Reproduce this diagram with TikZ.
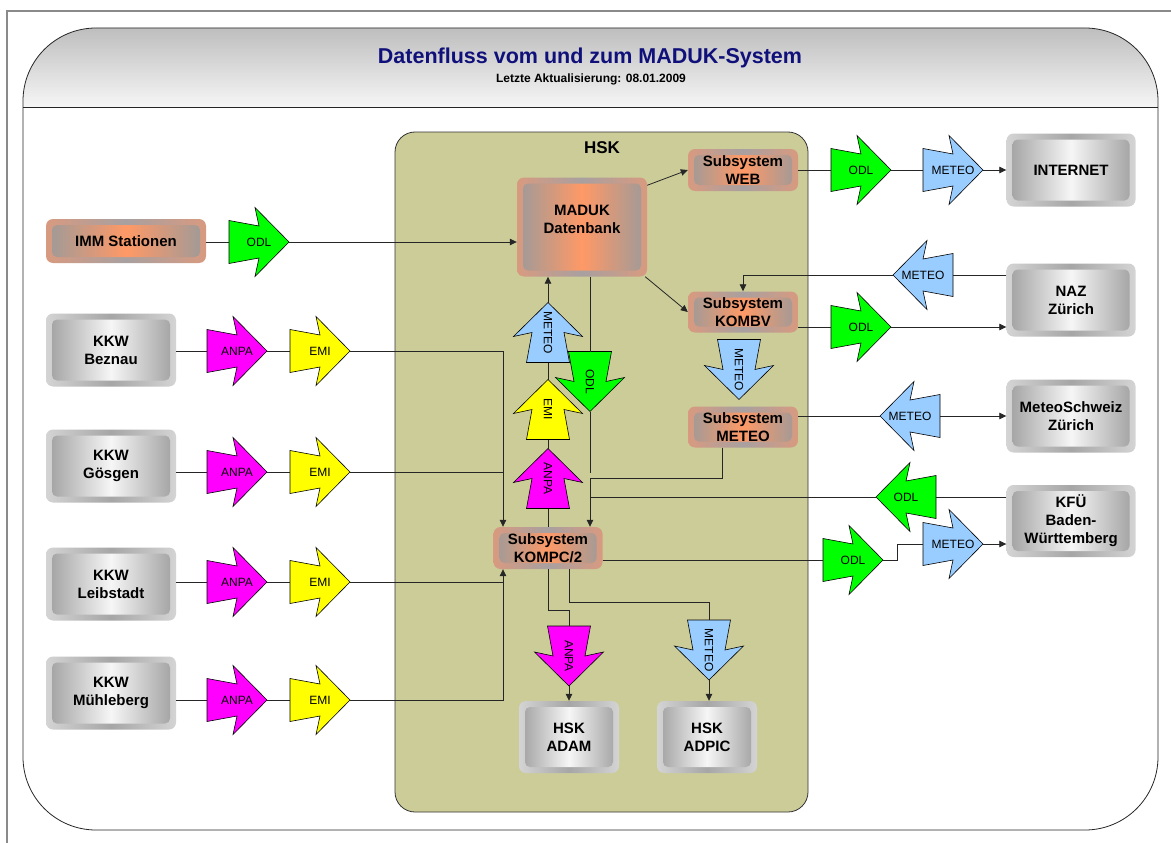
\documentclass[tikz,border=0pt]{standalone}
\usepackage{fontspec}
\setmainfont{Liberation Sans}
\usetikzlibrary{calc,arrows.meta}
\definecolor{odlc}{HTML}{00FF00}
\definecolor{meteoc}{HTML}{99CCFF}
\definecolor{anpac}{HTML}{FF00FF}
\definecolor{emic}{HTML}{FFFF00}
\definecolor{hskc}{HTML}{CCCC99}
\definecolor{titlec}{HTML}{10107A}
\definecolor{orC}{HTML}{FF9966}
\definecolor{orG}{HTML}{9C9A9A}
\definecolor{orRimE}{HTML}{D89A80}
\definecolor{orRimM}{HTML}{A8A0A0}
\definecolor{grIn}{HTML}{9E9E9E}
\definecolor{grMid}{HTML}{F6F6F6}
\definecolor{grRimE}{HTML}{D4D4D4}
\definecolor{grRimM}{HTML}{A6A6A6}
\definecolor{hdrTop}{HTML}{BEBEBE}
\definecolor{hdrBot}{HTML}{F6F6F6}
\definecolor{framec}{HTML}{8A8A8A}
\newcommand\nodefont{\fontsize{15}{18}\selectfont\bfseries}
\newcommand\arrfont{\fontsize{12}{14}\selectfont}
\tikzset{
  x=1pt, y=-1pt,
  conn/.style={line width=0.8pt, draw=black!85},
  tri/.style={-{Triangle[length=7pt,width=6.5pt]}},
  graybox/.style={rounded corners=7pt, inner sep=0pt, align=center, font=\nodefont,
    left color=grRimE, right color=grRimE, middle color=grRimM,
    path picture={\shade[rounded corners=5pt, left color=grIn, right color=grIn, middle color=grMid]
      ($(path picture bounding box.south west)+(6pt,6pt)$) rectangle ($(path picture bounding box.north east)+(-6pt,-6pt)$);}},
  orangebox/.style={rounded corners=7pt, inner sep=0pt, align=center, font=\nodefont,
    left color=orRimE, right color=orRimE, middle color=orRimM,
    path picture={\shade[rounded corners=5pt, left color=orG, right color=orG, middle color=orC]
      ($(path picture bounding box.south west)+(6pt,6pt)$) rectangle ($(path picture bounding box.north east)+(-6pt,-6pt)$);}},
  arrowlabel/.style={inner sep=0pt, font=\arrfont},
  pics/fatarrow/.style n args={3}{code={
    \draw[line width=0.6pt, draw=black, fill=#1]
      (-30,21.5) -- (0,16) -- (-4,34.5) -- (30,0) -- (-4,-34.5) -- (0,-16) -- (-30,-21.5) -- cycle;
    \coordinate (-tip) at (30,0);
    \coordinate (-tail) at (-30,0);
    \node[arrowlabel, rotate=#3] (-c) at (0,0) {#2};
  }}
}
\begin{document}
\begin{tikzpicture}
\useasboundingbox (0,0) rectangle (1171,843);
\fill[white] (0,0) rectangle (1171,843);
% page frame
\draw[framec, line width=1.4pt] (7,843) -- (7,11) -- (1171,11);
% main panel with header
\begin{scope}
  \clip[rounded corners=73pt] (23,28) rectangle (1158,830);
  \shade[top color=hdrTop, bottom color=hdrBot] (23,28) rectangle (1158,107);
\end{scope}
\draw[line width=0.8pt, black!85, rounded corners=73pt] (23,28) rectangle (1158,830);
\draw[line width=0.8pt, black!85] (23,107) -- (1158,107);
\node[font=\fontsize{21.5}{24}\selectfont\bfseries, text=titlec] (title) at (590,58) {Datenfluss vom und zum MADUK-System};
\node[font=\fontsize{12}{14}\selectfont\bfseries] (subtitle) at (591,79) {Letzte Aktualisierung: 08.01.2009};
% HSK panel
\draw[line width=0.8pt, draw=black!80, fill=hskc, rounded corners=20pt] (395,132) rectangle (808,812);
\node[font=\fontsize{17}{20}\selectfont\bfseries] (hsk) at (602,148) {HSK};
% left nodes
\node[orangebox, minimum width=160pt, minimum height=44pt] (imm) at (126,241) {IMM Stationen};
\node[graybox, minimum width=130pt, minimum height=73pt] (bez) at (111,350) {KKW\\Beznau};
\node[graybox, minimum width=130pt, minimum height=73pt] (goe) at (111,466) {KKW\\Gösgen};
\node[graybox, minimum width=130pt, minimum height=73pt] (lei) at (111,584) {KKW\\Leibstadt};
\node[graybox, minimum width=130pt, minimum height=73pt] (mue) at (111,693) {KKW\\Mühleberg};
% HSK nodes
\node[orangebox, minimum width=130pt, minimum height=99pt] (maduk) at (582,227) {};
\node[font=\nodefont, align=center, inner sep=0pt] (madukt) at (582,219) {MADUK\\Datenbank};
\node[orangebox, minimum width=110pt, minimum height=42pt] (web) at (743,170) {Subsystem\\WEB};
\node[orangebox, minimum width=110pt, minimum height=41pt] (kombv) at (743,312) {Subsystem\\KOMBV};
\node[orangebox, minimum width=110pt, minimum height=41pt] (smeteo) at (743,427) {Subsystem\\METEO};
\node[orangebox, minimum width=109pt, minimum height=42pt] (kompc) at (548,548) {Subsystem\\KOMPC/2};
\node[graybox, minimum width=100pt, minimum height=72pt] (adam) at (569,737) {HSK\\ADAM};
\node[graybox, minimum width=100pt, minimum height=72pt] (adpic) at (707,737) {HSK\\ADPIC};
% right nodes
\node[graybox, minimum width=129pt, minimum height=73pt] (internet) at (1071,170) {INTERNET};
\node[graybox, minimum width=129pt, minimum height=73pt] (naz) at (1071,300) {NAZ\\Zürich};
\node[graybox, minimum width=129pt, minimum height=73pt] (msz) at (1071,416) {MeteoSchweiz\\Zürich};
\node[graybox, minimum width=129pt, minimum height=72pt] (kfu) at (1071,521) {KFÜ\\Baden-\\Württemberg};
% fat arrows left
\pic (o1) at (259,242) {fatarrow={odlc}{ODL}{0}};
\pic (a1) at (237,351) {fatarrow={anpac}{ANPA}{0}};
\pic (e1) at (320,351) {fatarrow={emic}{EMI}{0}};
\pic (a2) at (237,472) {fatarrow={anpac}{ANPA}{0}};
\pic (e2) at (320,472) {fatarrow={emic}{EMI}{0}};
\pic (a3) at (237,582) {fatarrow={anpac}{ANPA}{0}};
\pic (e3) at (320,582) {fatarrow={emic}{EMI}{0}};
\pic (a4) at (237,700) {fatarrow={anpac}{ANPA}{0}};
\pic (e4) at (320,700) {fatarrow={emic}{EMI}{0}};
% vertical arrows in HSK
\pic[rotate=90] (mu) at (548,332.5) {fatarrow={meteoc}{METEO}{-90}};
\pic[rotate=90] (eu) at (548,409.5) {fatarrow={emic}{EMI}{-90}};
\pic[rotate=90] (au) at (548,478.5) {fatarrow={anpac}{ANPA}{-90}};
\pic[rotate=-90] (od) at (590,381.5) {fatarrow={odlc}{ODL}{-90}};
\pic[rotate=-90] (mk) at (739,369.5) {fatarrow={meteoc}{METEO}{-90}};
\pic[rotate=-90] (ad) at (569,656) {fatarrow={anpac}{ANPA}{-90}};
\pic[rotate=-90] (md) at (709,650) {fatarrow={meteoc}{METEO}{-90}};
% right arrows
\pic (ow) at (861,170) {fatarrow={odlc}{ODL}{0}};
\pic (mw) at (953,170) {fatarrow={meteoc}{METEO}{0}};
\pic[rotate=180] (mnl) at (923,275) {fatarrow={meteoc}{METEO}{0}};
\pic (okr) at (861,327) {fatarrow={odlc}{ODL}{0}};
\pic[rotate=180] (msl) at (910,416) {fatarrow={meteoc}{METEO}{0}};
\pic[rotate=180] (ol) at (906,497) {fatarrow={odlc}{ODL}{0}};
\pic (orr) at (853,560) {fatarrow={odlc}{ODL}{0}};
\pic (mr) at (953,544) {fatarrow={meteoc}{METEO}{0}};
% helper coordinates
\coordinate (kl) at (503,0);
\coordinate (kr) at (590,0);
\coordinate (xm) at (722,0);
\coordinate (j1) at (590,478);
\coordinate (j2) at (590,473);
% connectors left
\draw[conn] (imm.east |- o1-tail) -- (o1-tail);
\draw[conn,tri] (o1-tip) -- (maduk.west |- o1-tip);
\draw[conn] (bez.east |- a1-tail) -- (a1-tail);
\draw[conn] (a1-tip) -- (e1-tail);
\draw[conn,tri] (e1-tip) -| (kl |- kompc.north);
\draw[conn] (goe.east |- a2-tail) -- (a2-tail);
\draw[conn] (a2-tip) -- (e2-tail);
\draw[conn] (e2-tip) -- (kl |- e2-tip);
\draw[conn] (lei.east |- a3-tail) -- (a3-tail);
\draw[conn] (a3-tip) -- (e3-tail);
\draw[conn,tri] (e3-tip) -| (kl |- kompc.south);
\draw[conn] (mue.east |- a4-tail) -- (a4-tail);
\draw[conn] (a4-tip) -- (e4-tail);
\draw[conn] (e4-tip) -| (kl |- e3-tip);
% connectors HSK
\draw[conn] (au-tail |- kompc.north) -- (au-tail);
\draw[conn] (au-tip) -- (eu-tail);
\draw[conn] (eu-tip) -- (mu-tail);
\draw[conn,tri] (mu-tip) -- (mu-tip |- maduk.south);
\draw[conn] (kr |- maduk.south) -- (od-tail);
\draw[conn] (od-tip) -- (j2);
\draw[conn,tri] (xm |- smeteo.south) |- (j1) -- (kr |- kompc.north);
\draw[conn,tri] ($(maduk.north east)+(0,-8pt)$) -- (web.west);
\draw[conn,tri] ($(maduk.south east)+(-2pt,0)$) -- (kombv.west);
\draw[conn] (kompc.south) -- ++(0,41) -| (ad-tail);
\draw[conn,tri] (ad-tip) -- (adam.north);
\draw[conn] (ad-tail |- kompc.south) -- ++(0,33) -| (md-tail);
\draw[conn,tri] (md-tip) -- (md-tip |- adpic.north);
% connectors right
\draw[conn] (web.east) -- (ow-tail);
\draw[conn] (ow-tip) -- (mw-tail);
\draw[conn,tri] (mw-tip) -- (internet.west);
\draw[conn] (naz.west |- mnl-tail) -- (mnl-tail);
\draw[conn,tri] (mnl-tip) -| (kombv.north);
\draw[conn] (kombv.east |- okr-tail) -- (okr-tail);
\draw[conn,tri] (okr-tip) -- (naz.west |- okr-tip);
\draw[conn] (smeteo.east |- msl-tip) -- (msl-tip);
\draw[conn,tri] (msl-tail) -- (msz.west |- msl-tail);
\draw[conn] (kfu.west |- ol-tail) -- (ol-tail);
\draw[conn] (ol-tip) -- (kr |- ol-tip);
\draw[conn] (kompc.east |- orr-tail) -- (orr-tail);
\draw[conn] (orr-tip) -- ++(14,0) |- (mr-tail);
\draw[conn,tri] (mr-tip) -- (kfu.west |- mr-tip);
\end{tikzpicture}
\end{document}
